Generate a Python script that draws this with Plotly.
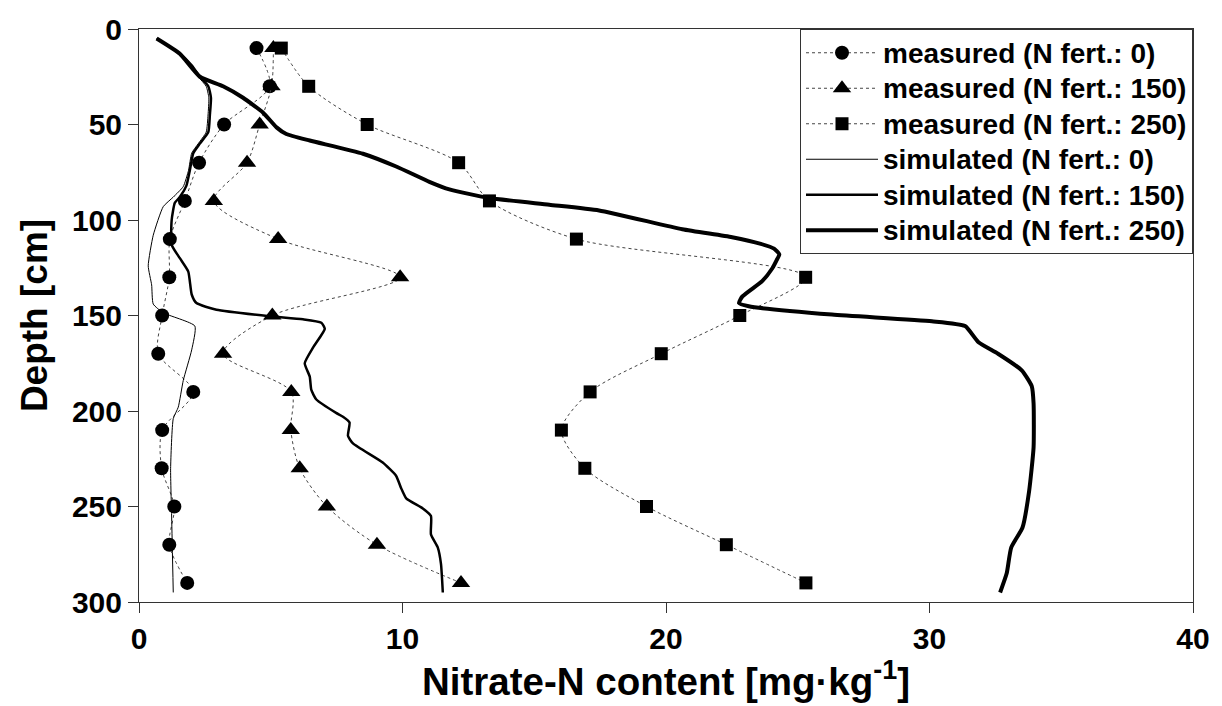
import plotly.graph_objects as go

# ---------------- data ----------------
depth_measured = [10, 30, 50, 70, 90, 110, 130, 150, 170, 190, 210, 230, 250, 270, 290]
meas_0 = [4.46, 4.96, 3.23, 2.28, 1.74, 1.17, 1.15, 0.88, 0.73, 2.06, 0.88, 0.86, 1.34, 1.15, 1.83]
meas_150 = [5.10, 5.03, 4.58, 4.10, 2.84, 5.28, 9.91, 5.06, 3.19, 5.78, 5.76, 6.10, 7.13, 9.03, 12.22]
meas_250 = [5.40, 6.44, 8.66, 12.13, 13.30, 16.60, 25.30, 22.80, 19.82, 17.12, 16.03, 16.92, 19.26, 22.29, 25.31]

sim0_depth = [5, 13, 19, 25, 30, 36, 45, 54, 60, 65, 74, 82.5, 88, 93, 108, 124, 134, 144,
              148.6, 155.5, 168, 184, 198, 204, 230, 256, 295]
sim0_x = [0.67, 1.50, 1.95, 2.25, 2.55, 2.65, 2.62, 2.55, 2.25, 2.00, 1.88, 1.68, 1.30, 0.92,
          0.54, 0.35, 0.48, 0.54, 0.92, 2.12, 2.00, 1.68, 1.49, 1.30, 1.20, 1.24, 1.30]

sim150_depth = [5, 13, 19, 25, 30, 36, 45, 54, 60, 65, 74, 82, 88, 91, 100, 113, 120, 127, 139,
                143.5, 147, 150.4, 152, 153.8, 157, 166.7, 175, 182, 189, 194, 201, 203, 206,
                213, 217, 227, 234, 240.5, 245.7, 251, 255, 264.6, 271.5, 280, 295]
sim150_x = [0.67, 1.55, 2.00, 2.31, 2.63, 2.73, 2.69, 2.63, 2.31, 2.06, 1.93, 1.80, 1.55, 1.36,
            1.24, 1.24, 1.55, 1.87, 2.00, 2.18, 2.94, 4.96, 6.22, 6.92, 7.05, 6.61, 6.29, 6.48,
            6.54, 6.73, 7.48, 7.74, 7.99, 7.93, 8.12, 9.25, 9.76, 9.95, 10.14, 10.77, 11.08,
            11.08, 11.34, 11.46, 11.53]

sim250_depth = [5, 13, 25, 30, 36, 43.8, 51.5, 55, 58.4, 65.3, 72, 80, 84, 88.5, 92, 95, 104.8,
                109, 112.5, 115, 118, 121, 125.4, 132, 140, 143.5, 145.2, 149.5, 153, 155.5,
                164, 170, 178.7, 187, 196, 219, 242, 261, 271.5, 285, 295]
sim250_x = [0.67, 1.55, 2.31, 3.19, 3.95, 4.71, 5.22, 5.59, 6.48, 8.50, 9.76, 11.02, 11.78,
            13.30, 15.57, 17.46, 20.62, 22.51, 23.60, 24.10, 24.30, 24.20, 24.03, 23.65, 22.90,
            22.77, 23.14, 26.30, 30.09, 31.35, 31.86, 32.60, 33.50, 33.88, 33.95, 33.95, 33.78,
            33.53, 33.10, 32.93, 32.68]

x_ticks = [0, 10, 20, 30, 40]
y_ticks = [0, 50, 100, 150, 200, 250, 300]

FONT = "Arial, 'Liberation Sans', sans-serif"


def legend_label(text):
    return '<span style="font-size:28px">' + text + '</span>'


fig = go.Figure()

meas_line = dict(color="#444444", width=1, dash="3px,3px", shape="spline", smoothing=0.8)
for name, xs, sym, size in [
    ("measured (N fert.: 0)", meas_0, "circle", 14),
    ("measured (N fert.: 150)", meas_150, "triangle-up", 16),
    ("measured (N fert.: 250)", meas_250, "square", 13),
]:
    fig.add_trace(go.Scatter(
        x=xs, y=depth_measured, mode="lines+markers", name=legend_label(name),
        line=meas_line,
        marker=dict(symbol=sym, size=size, color="black", line=dict(width=0)),
    ))

for name, xs, ys, w in [
    ("simulated (N fert.: 0)", sim0_x, sim0_depth, 1),
    ("simulated (N fert.: 150)", sim150_x, sim150_depth, 2.5),
    ("simulated (N fert.: 250)", sim250_x, sim250_depth, 4),
]:
    fig.add_trace(go.Scatter(
        x=xs, y=ys, mode="lines", name=legend_label(name),
        line=dict(color="black", width=w, shape="spline", smoothing=0.5),
    ))

fig.update_layout(
    width=1222, height=706,
    margin=dict(l=139, r=27, t=20, b=104),
    paper_bgcolor="white", plot_bgcolor="white",
    font=dict(family=FONT, color="black"),
    showlegend=True,
    legend=dict(
        x=1, xanchor="right", y=1, yanchor="top",
        bgcolor="white", bordercolor="#333333", borderwidth=1,
        font=dict(family=FONT, size=25, weight="bold", color="black"),
        itemwidth=72,
        tracegroupgap=0,
    ),
)

fig.update_xaxes(
    range=[0, 40], tickvals=x_ticks, ticktext=[str(v) for v in x_ticks],
    showgrid=False, zeroline=False,
    showline=True, linecolor="#333333", linewidth=1, mirror=True,
    ticks="outside", ticklen=10, tickcolor="#333333",
    tickfont=dict(family=FONT, size=30, weight="bold"),
    title=dict(text="Nitrate-N content [mg·kg<sup>-1</sup>]",
               font=dict(family=FONT, size=38.5, weight="bold"), standoff=6),
)
fig.update_yaxes(
    range=[300, 0], tickvals=y_ticks, ticktext=[str(v) for v in y_ticks],
    showgrid=False, zeroline=False,
    showline=True, linecolor="#333333", linewidth=1, mirror=True,
    ticks="outside", ticklen=10, tickcolor="#333333",
    tickfont=dict(family=FONT, size=30, weight="bold"),
    title=dict(text="Depth [cm]",
               font=dict(family=FONT, size=37, weight="bold"), standoff=12),
)

fig.write_html("out.html")
